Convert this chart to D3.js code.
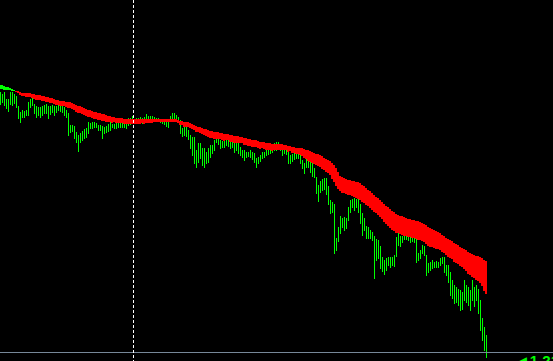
<!DOCTYPE html>
<html>
<head>
<meta charset="utf-8">
<script src="https://cdn.jsdelivr.net/npm/d3@7"></script>
<style>
html, body { margin: 0; padding: 0; background: #000; overflow: hidden; }
</style>
</head>
<body>
<svg id="chart"></svg>
<script>
// prices in points above 1.2000 (1 point = 0.0001)
const highs = [
  408,406,408,401,401,408,408,406,404,394,
  388,390,389,390,398,401,402,396,394,393,
  393,394,395,396,394,394,395,394,394,396,
  395,394,393,390,387,375,375,374,368,365,
  367,369,371,372,378,377,378,378,377,375,
  375,374,373,374,376,378,376,376,377,377,
  378,377,378,378,382,382,384,381,382,382,
  383,382,383,386,384,384,384,383,382,382,
  381,381,379,378,378,384,387,387,385,383,
  380,372,373,373,370,365,363,363,350,357,
  357,352,352,348,352,355,355,360,368,362,
  360,359,361,360,360,358,358,357,357,357,
  353,350,350,348,348,350,348,347,342,343,
  345,348,348,350,350,352,353,357,358,358,
  355,352,352,352,349,345,346,347,346,348,
  347,340,337,341,340,338,337,332,323,315,
  319,321,322,322,314,300,298,296,262,273,
  284,282,283,282,293,300,301,302,301,301,
  296,287,282,274,273,270,268,264,261,260,
  254,243,240,242,243,243,243,245,263,267,
  264,264,268,268,266,264,264,264,264,247,
  250,255,254,245,237,238,240,238,239,238,
  242,243,243,235,235,228,220,215,213,211,
  210,208,220,215,213,210,220,213,215,211,
  200,182,173,165
];
const lows = [
  396,398,395,392,389,396,395,397,393,382,
  378,383,383,385,385,393,395,387,383,385,
  383,385,387,387,382,386,388,385,388,390,
  389,388,385,383,365,368,369,362,358,349,
  358,360,362,363,367,372,372,373,373,370,
  370,362,367,368,369,370,373,372,372,373,
  373,373,373,372,375,376,378,377,377,377,
  377,377,378,380,379,379,379,379,379,379,
  378,377,376,374,373,379,381,381,380,379,
  367,364,365,364,361,352,345,337,333,338,
  342,335,333,337,338,343,347,350,358,356,
  352,353,353,355,354,352,353,348,350,347,
  345,343,340,343,344,343,341,338,333,337,
  339,342,343,345,346,347,348,350,350,352,
  350,345,347,346,337,337,339,341,342,342,
  337,332,327,333,333,328,324,323,307,299,
  308,310,311,306,296,287,288,247,250,259,
  267,273,270,272,280,288,293,290,293,288,
  277,265,270,262,262,262,260,222,240,242,
  232,229,226,230,235,233,235,234,244,255,
  254,258,261,261,260,258,259,258,238,240,
  242,247,245,225,228,230,232,233,233,233,
  235,237,228,225,218,205,202,197,198,195,
  190,191,200,198,195,190,200,194,200,187,
  170,160,150,143
];
const fastMA = [
  415,414.5,414,413.5,413,412.5,411.5,410,408,406.5,
  405,404.5,404,403.5,403,402.5,402,401.5,400.5,400,
  399.5,399,398.5,398,397.5,397,396.5,396,395.5,395,
  394.5,394,393.5,393,392.5,391.5,390.5,389.5,388.5,387.5,
  387,386,385,384.5,383.5,383,382.5,381.5,381,380.5,
  380,379.5,379,378.5,378.5,378,377.5,377.5,377,377,
  376.5,376.5,376,376,375.5,375.5,375.5,375.5,376,376,
  376,376.5,376.5,377,377,377.5,377.5,378,378,378,
  378,378,378,378,378.5,378.5,378.5,378.5,378,377,
  376,375,374,373.5,372.5,372,371,370,368.5,368,
  367,366,365,364,363.5,363,362.5,362,361.5,361.5,
  361,360.5,360,359.5,359.5,359,358.5,358,357.5,357.5,
  357,356.5,355.5,355,354.5,354,353.5,353,352.5,352,
  352,351.5,351,350.5,350.5,350,350,350.5,350.5,350.5,
  350.5,350,350,349.5,349,349,348,347,346.5,346,
  345,343.5,342,341,339.5,338.5,337.5,336.5,335,334,
  333,331.5,330,328.5,327,325,321.5,317.5,314,311,
  308.5,307.5,307,306.5,305.5,305,304,303,302,301,
  300,298.5,297.5,295.5,294,292,290.5,288.5,287,285,
  283,281,278.5,276.5,274,272,270.5,269,267.5,266.5,
  265.5,265,264.5,264,263.5,263,262.5,262,261,260.5,
  260,259,257.5,256,254.5,253.5,253,252,251.5,251,
  250,248.5,247,245,243.5,242,240.5,239,237.5,236,
  235,233,231,229,227,225,223.5,222,220.5,219,
  217,214,210,206
];
const slowMA = [
  411,411,410.5,410.5,410,410,409.5,409,409.5,409,
  408,407.5,407,407,406.5,406.5,406,406,405.5,405,
  405,404.5,404,403,402.5,402,401.5,401,400.5,400,
  399.5,399,398.5,398,398,397.5,397,396,395.5,394.5,
  394,393,392,391.5,390.5,390,389,388.5,388,387.5,
  387,386.5,386,385,384.5,384,383.5,383,382.5,382.5,
  382,381.5,381,381,380.5,380.5,380.5,380.5,380.5,380.5,
  380.5,380.5,381,381,381,381,381,381,381,381,
  381,381,381,381,381,381,381,381,380.5,380,
  379.5,379,378.5,378,377.5,377,376,375,374,373.5,
  373,372,371.5,371,370,369.5,369,368.5,368,368,
  367.5,367,366.5,366,366,365.5,365,364.5,364,364,
  363.5,363,362.5,362,361.5,361,360.5,360,359.5,359,
  358.5,358,358,357.5,357,357,356.5,356.5,356,356,
  356,355.5,355,355,354.5,354,353.5,353,352.5,352,
  352,351.5,351,350.5,350,349.5,348.5,347.5,346.5,346,
  345,344,342.5,341.5,340,338.5,337,335,332,328,
  324,323,322,321.5,320.5,320,319.5,319,318,317.5,
  317,315.5,314,312,310,308.5,307,305,303.5,302,
  300,298,296,294.5,293,291,289.5,288,286.5,285,
  284,283.5,283,282,281.5,281,280.5,280,279.5,279,
  278,277,275.5,274.5,273,272,271,270,269,268,
  267,265.5,264,262.5,261,260,258.5,257.5,256,255,
  253.5,252,251,249.5,248.5,247,246,245.5,244.5,244,
  243,242,240.5,239
];
const bid = 148;
const markerBar = 66;

const width = 553, height = 361;
const n = d3.min([highs.length, lows.length, fastMA.length, slowMA.length]);

const svg = d3.select("#chart")
    .attr("width", width)
    .attr("height", height)
    .style("display", "block")
    .style("background", "#000");

const x = d3.scaleLinear([0, n - 1], [0.5, 486.5]);
const y = d3.scaleLinear([500, 139], [0, height]);

const idx = d3.range(n);

svg.append("g")
    .attr("shape-rendering", "crispEdges")
    .selectAll("line")
    .data(idx)
    .join("line")
    .attr("x1", i => x(i))
    .attr("x2", i => x(i))
    .attr("y1", i => Math.round(y(highs[i])))
    .attr("y2", i => Math.round(y(lows[i])) + 1)
    .attr("stroke", "#00ff00")
    .attr("stroke-width", 1);

svg.append("g")
    .attr("shape-rendering", "crispEdges")
    .selectAll("rect")
    .data(idx)
    .join("rect")
    .attr("x", i => x(i) - 1.5)
    .attr("width", 2)
    .attr("y", i => Math.round(y(Math.max(fastMA[i], slowMA[i]))))
    .attr("height", i => Math.max(1, Math.round(Math.abs(y(fastMA[i]) - y(slowMA[i])))))
    .attr("fill", i => fastMA[i] > slowMA[i] ? "#00ff00" : "#ff0000");

svg.append("line")
    .attr("x1", 0)
    .attr("x2", width)
    .attr("y1", Math.round(y(bid)) + 0.5)
    .attr("y2", Math.round(y(bid)) + 0.5)
    .attr("stroke", "#778899")
    .attr("stroke-width", 1);

svg.append("line")
    .attr("x1", Math.round(x(markerBar)) + 0.5)
    .attr("x2", Math.round(x(markerBar)) + 0.5)
    .attr("y1", 0)
    .attr("y2", height)
    .attr("stroke", "#ffffff")
    .attr("stroke-width", 1)
    .attr("stroke-dasharray", "3,2");

// bid price tag, cut by the bottom edge as in the original window
svg.append("text")
    .attr("x", 515)
    .attr("y", 366)
    .attr("fill", "#00ff00")
    .attr("font-family", "Liberation Sans, Arial, sans-serif")
    .attr("font-weight", "bold")
    .attr("font-size", 15)
    .text("\u25C4" + (1.2 + bid / 10000).toFixed(4));
</script>
</body>
</html>
